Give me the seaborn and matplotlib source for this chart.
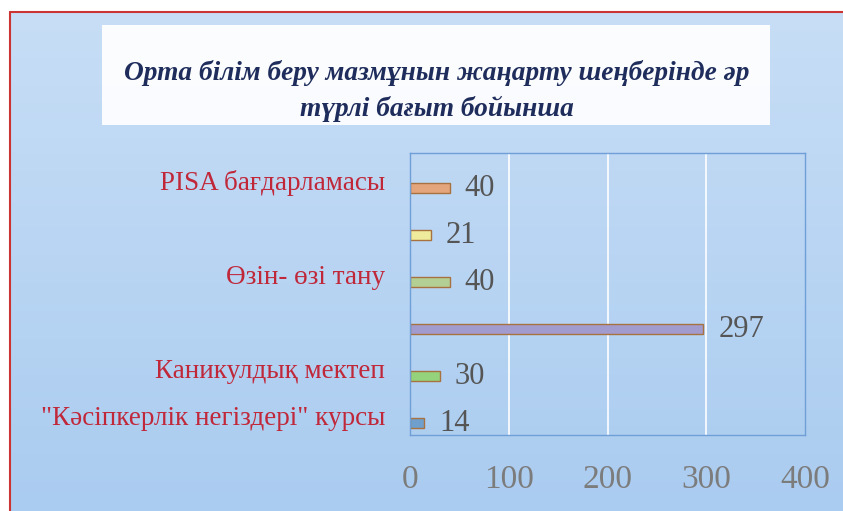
import numpy as np
import pandas as pd
import matplotlib.pyplot as plt
import matplotlib.transforms as mtransforms
from matplotlib.patches import Rectangle
from matplotlib.lines import Line2D
import seaborn as sns

# data (top to bottom)
keys = ['k1', 'k2', 'k3', 'k4', 'k5', 'k6']
labels = ['PISA бағдарламасы', '', 'Өзін- өзі тану', '',
          'Каникулдық мектеп', '"Кәсіпкерлік негіздері" курсы']
values = [40, 21, 40, 297, 30, 14]
colors = ['#f6a26a', '#fbf78f', '#b4d98a', '#9c93d6', '#8fe06e', '#5fa0dc']
x_ticks = [0, 100, 200, 300, 400]

title = 'Орта білім беру мазмұнын жаңарту шеңберінде әр\nтүрлі бағыт бойынша'

df = pd.DataFrame({'key': keys, 'value': values})

sns.set_theme(style='white')
plt.rcParams['font.family'] = ['Liberation Serif', 'DejaVu Serif']

fig = plt.figure(figsize=(8.43, 5.11), dpi=100)

# light blue background gradient
bg = fig.add_axes([0, 0, 1, 1], zorder=-10)
grad = np.linspace(0, 1, 256).reshape(-1, 1)
top_c = np.array([200, 222, 246]) / 255
bot_c = np.array([170, 204, 240]) / 255
img = top_c[None, None, :] * (1 - grad[:, :, None]) + bot_c[None, None, :] * grad[:, :, None]
bg.imshow(img, aspect='auto', extent=[0, 1, 0, 1])
bg.set_axis_off()

# white strip above the red frame and the frame itself
fig.add_artist(Rectangle((0, 1 - 11 / 511), 1, 11 / 511, transform=fig.transFigure,
                         facecolor='white', edgecolor='none', zorder=-5))
fig.add_artist(Rectangle((0, 0), 9 / 843, 1, transform=fig.transFigure,
                         facecolor='white', edgecolor='none', zorder=-5))
fig.add_artist(Line2D([10 / 843, 10 / 843], [0, 1 - 12 / 511], transform=fig.transFigure,
                      color='#cc3333', lw=1.5))
fig.add_artist(Line2D([10 / 843, 1], [1 - 12 / 511, 1 - 12 / 511], transform=fig.transFigure,
                      color='#cc3333', lw=1.5))

# title box
fig.add_artist(Rectangle((102 / 843, 1 - 125 / 511), 668 / 843, 100 / 511,
                         transform=fig.transFigure, facecolor='white', alpha=0.92,
                         edgecolor='none', zorder=-4))
fig.text(437 / 843, 1 - 91 / 511, title, ha='center', va='center', fontsize=19.7,
         fontweight='bold', fontstyle='italic', color='#1f2d5c', linespacing=1.5)

ax = fig.add_axes([410 / 843, 1 - 435 / 511, 395 / 843, 282 / 511])
ax.set_facecolor('none')

sns.barplot(data=df, x='value', y='key', hue='key', palette=colors, legend=False,
            orient='h', width=0.2, edgecolor='#a87240', linewidth=1.0, ax=ax)

for c in ax.containers:
    ax.bar_label(c, padding=11, fontsize=22, color='#555555')

ax.set_xlim(0, 400)
ax.set_ylim(5.255, -0.745)
ax.set_xticks(x_ticks)
ax.set_yticks(range(len(labels)))
ax.set_yticklabels(labels, color='#c0283a', fontsize=19.5)
ax.tick_params(axis='y', length=0, pad=18)
ax.tick_params(axis='x', length=0, pad=21, labelsize=24, labelcolor='#7c7c7c')
ax.set_xlabel('')
ax.set_ylabel('')

# category labels sit a little above their bars in the original
shift = mtransforms.ScaledTranslation(0, 8 / 100, fig.dpi_scale_trans)
for t in ax.get_yticklabels():
    t.set_transform(t.get_transform() + shift)

for gx in x_ticks[1:-1]:
    ax.axvline(gx, color='white', lw=1.2, zorder=0)

for s in ax.spines.values():
    s.set_color('#6f9fd6')
    s.set_linewidth(1.0)

fig.savefig('out.png', dpi=100)
